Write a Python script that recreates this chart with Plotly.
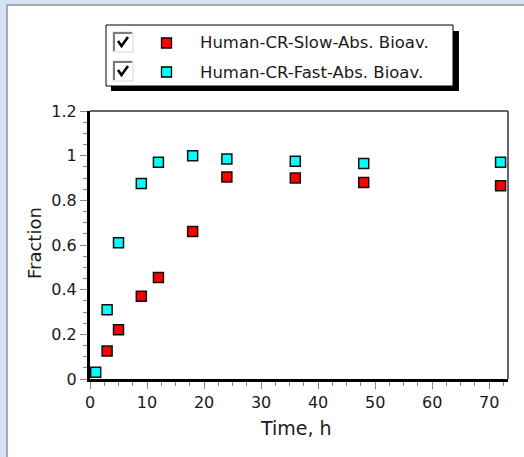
import plotly.graph_objects as go

# ---- data ----
time_slow = [3, 5, 9, 12, 18, 24, 36, 48, 72]
frac_slow = [0.125, 0.22, 0.37, 0.455, 0.66, 0.905, 0.90, 0.88, 0.865]
time_fast = [1, 3, 5, 9, 12, 18, 24, 36, 48, 72]
frac_fast = [0.03, 0.31, 0.61, 0.875, 0.97, 1.0, 0.985, 0.975, 0.965, 0.97]
names = ["Human-CR-Slow-Abs. Bioav.", "Human-CR-Fast-Abs. Bioav."]
colors = ["#ff0000", "#00ffff"]
x_title = "Time, h"
y_title = "Fraction"

W, H = 524, 457
L, R, T, B = 90, 508, 111, 379  # plot area in pixels


def px(x):
    return (x - L) / (R - L)


def py(y):
    return (B - y) / (B - T)


FONT = "DejaVu Sans, Verdana, sans-serif"
TXT = "#1a1a1a"

fig = go.Figure()
for xs, ys, c, n in [(time_slow, frac_slow, colors[0], names[0]),
                     (time_fast, frac_fast, colors[1], names[1])]:
    fig.add_trace(go.Scatter(
        x=xs, y=ys, mode="markers", name=n, showlegend=False, cliponaxis=False,
        hoverinfo="skip",
        marker=dict(symbol="square", size=10, color=c,
                    line=dict(color="#111111", width=1.5))))

shapes = []
# window background
shapes.append(dict(type="rect", xref="paper", yref="paper", layer="below",
                   x0=px(-2), x1=px(W + 2), y0=py(H + 2), y1=py(-2),
                   fillcolor="#d3e3f5", line=dict(width=0)))
shapes.append(dict(type="rect", xref="paper", yref="paper", layer="below",
                   x0=px(7), x1=px(W + 5), y0=py(H + 5), y1=py(5),
                   fillcolor="#ffffff", line=dict(color="#a8a8a8", width=2)))
# plot frame top & right
shapes.append(dict(type="line", xref="paper", yref="paper", x0=0, x1=1, y0=1, y1=1,
                   line=dict(color="#333333", width=1.5)))
shapes.append(dict(type="line", xref="paper", yref="paper", x0=1, x1=1, y0=0, y1=1,
                   line=dict(color="#333333", width=1.5)))
# legend shadow & box
shapes.append(dict(type="rect", xref="paper", yref="paper",
                   x0=px(111), x1=px(459), y0=py(91), y1=py(31),
                   fillcolor="#000000", line=dict(width=0)))
shapes.append(dict(type="rect", xref="paper", yref="paper",
                   x0=px(106), x1=px(453), y0=py(86), y1=py(25),
                   fillcolor="#ffffff", line=dict(color="#000000", width=1)))

annotations = []
rows = [43, 72]
for i, yc in enumerate(rows):
    # checkbox (sunken look)
    shapes.append(dict(type="rect", xref="paper", yref="paper",
                       x0=px(113), x1=px(133), y0=py(yc + 9), y1=py(yc - 11),
                       fillcolor="#ffffff", line=dict(color="#d8d8d8", width=1)))
    shapes.append(dict(type="path", xref="paper", yref="paper",
                       path=f"M {px(114)},{py(yc+8)} L {px(114)},{py(yc-10)} L {px(132)},{py(yc-10)}",
                       line=dict(color="#7a7a7a", width=2)))
    shapes.append(dict(type="path", xref="paper", yref="paper",
                       path=f"M {px(118)},{py(yc-2)} L {px(121.5)},{py(yc+3)} L {px(128)},{py(yc-6)}",
                       line=dict(color="#000000", width=2.5)))
    # legend marker
    shapes.append(dict(type="rect", xref="paper", yref="paper",
                       x0=px(161.5), x1=px(171.5), y0=py(yc + 5), y1=py(yc - 5),
                       fillcolor=colors[i], line=dict(color="#000000", width=1.3)))
    annotations.append(dict(xref="paper", yref="paper", x=px(198), y=py(yc),
                            xanchor="left", yanchor="middle", showarrow=False,
                            text=names[i], font=dict(family=FONT, size=16.5, color=TXT)))

# axis titles
annotations.append(dict(xref="paper", yref="paper", x=px(296), y=py(428),
                        xanchor="center", yanchor="middle", showarrow=False,
                        text=x_title, font=dict(family=FONT, size=19, color=TXT)))
annotations.append(dict(xref="paper", yref="paper", x=px(34), y=py(243),
                        xanchor="center", yanchor="middle", showarrow=False, textangle=-90,
                        text=y_title, font=dict(family=FONT, size=18, color=TXT)))

fig.update_layout(
    width=W, height=H,
    margin=dict(l=L, r=W - R, t=T, b=H - B, autoexpand=False),
    paper_bgcolor="#ffffff", plot_bgcolor="#ffffff",
    shapes=shapes, annotations=annotations, hovermode=False,
    font=dict(family=FONT, size=16, color=TXT),
    xaxis=dict(range=[0, 73.3], dtick=10, tick0=0, showgrid=False, zeroline=False,
               showline=True, linecolor="#000000", linewidth=3,
               ticks="outside", ticklen=7, tickcolor="#888888", tickwidth=1,
               minor=dict(dtick=2.5, ticks="outside", ticklen=4, tickcolor="#888888"),
               tickfont=dict(size=16)),
    yaxis=dict(range=[0, 1.2], dtick=0.2, showgrid=False, zeroline=False,
               showline=True, linecolor="#000000", linewidth=3,
               ticks="outside", ticklen=7, tickcolor="#888888", tickwidth=1,
               minor=dict(dtick=0.05, ticks="outside", ticklen=4, tickcolor="#888888"),
               tickfont=dict(size=16)),
)

fig.write_html("out.html", config={"displayModeBar": False, "staticPlot": True},
               post_script="document.body.style.margin='0';document.body.style.overflow='hidden';")
